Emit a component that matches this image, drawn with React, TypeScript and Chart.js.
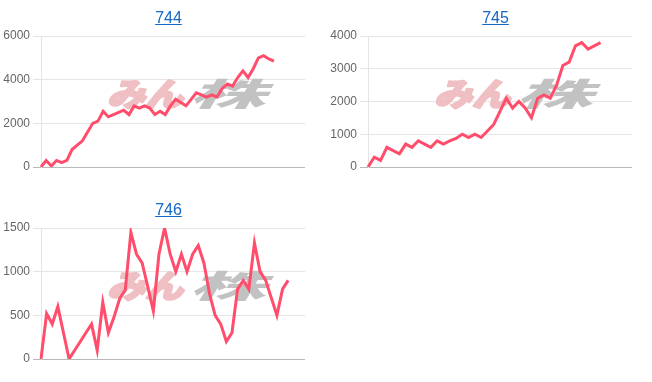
import React, { useEffect, useRef } from "react";
import { Chart, registerables } from "chart.js";

Chart.register(...registerables);

// ---------- data ----------
const TITLE_744 = "744";
const TITLE_745 = "745";
const TITLE_746 = "746";

const LABELS_744 = [
  "1", "2", "3", "4", "5", "6", "7", "8", "9", "10", "11", "12", "13",
  "14", "15", "16", "17", "18", "19", "20", "21", "22", "23", "24", "25", "26",
  "27", "28", "29", "30", "31", "32", "33", "34", "35", "36", "37", "38", "39",
  "40", "41", "42", "43", "44", "45", "46", "47", "48", "49", "50", "51", "52",
];
const VALUES_744 = [
  0, 300, 50, 300, 200, 300, 800, 1000, 1200, 1600, 2000, 2100, 2550, 2300,
  2400, 2500, 2600, 2400, 2800, 2700, 2800, 2700, 2400, 2550, 2400, 2800, 3100,
  2950, 2800, 3100, 3400, 3300, 3200, 3300, 3200, 3600, 3800, 3700, 4100, 4400,
  4100, 4500, 5000, 5100, 4950, 4850,
];
const Y_TICKS_744 = [0, 2000, 4000, 6000];

const LABELS_745 = [
  "1", "2", "3", "4", "5", "6", "7", "8", "9", "10", "11", "12", "13",
  "14", "15", "16", "17", "18", "19", "20", "21", "22", "23", "24", "25", "26",
  "27", "28", "29", "30", "31", "32", "33", "34", "35", "36", "37", "38", "39",
  "40", "41", "42", "43",
];
const VALUES_745 = [
  0, 300, 200, 600, 500, 400, 700, 600, 800, 700, 600, 800, 700, 800, 870,
  1000, 900, 1000, 900, 1100, 1300, 1700, 2100, 1800, 2000, 1800, 1500, 2100,
  2200, 2100, 2500, 3100, 3200, 3700, 3800, 3600, 3700, 3800,
];
const Y_TICKS_745 = [0, 1000, 2000, 3000, 4000];

const LABELS_746 = [
  "1", "2", "3", "4", "5", "6", "7", "8", "9", "10", "11", "12", "13",
  "14", "15", "16", "17", "18", "19", "20", "21", "22", "23", "24", "25", "26",
  "27", "28", "29", "30", "31", "32", "33", "34", "35", "36", "37", "38", "39",
  "40", "41", "42", "43", "44", "45", "46", "47", "48",
];
const VALUES_746 = [
  0, 520, 400, 600, 300, 0, 100, 200, 300, 400, 100, 650, 300, 480, 690, 790,
  1450, 1200, 1100, 830, 550, 1200, 1500, 1200, 1000, 1200, 1000, 1200, 1300,
  1100, 750, 500, 400, 200, 300, 800, 900, 800, 1330, 1000, 900, 700, 500, 800,
  900,
];
const Y_TICKS_746 = [0, 500, 1000, 1500];

const WATERMARK_KANA = "みん";
const WATERMARK_KANJI = "株";

// ---------- styles ----------
const LINE_COLOR = "rgb(255, 77, 107)";
const LINK_COLOR = "#1467c8";
const WM_PINK = "#efbfc3";
const WM_GRAY = "#c2c2c2";

const watermarkPlugin = {
  id: "watermark",
  beforeDatasetsDraw(chart: any) {
    const { ctx, chartArea: a } = chart;
    const cy = a.top + 58;
    ctx.save();
    ctx.textBaseline = "middle";
    ctx.textAlign = "left";
    ctx.lineJoin = "round";
    ctx.font = 'italic 900 32px "Noto Sans CJK JP", sans-serif';
    // pink kana
    const w1 = ctx.measureText(WATERMARK_KANA).width;
    ctx.save();
    ctx.translate(a.left + 66, cy);
    ctx.scale(76 / w1, 1);
    ctx.fillStyle = WM_PINK;
    ctx.strokeStyle = WM_PINK;
    ctx.lineWidth = 2;
    ctx.strokeText(WATERMARK_KANA, 0, 0);
    ctx.fillText(WATERMARK_KANA, 0, 0);
    ctx.restore();
    // gray kanji
    const w2 = ctx.measureText(WATERMARK_KANJI).width;
    ctx.save();
    ctx.translate(a.left + 148, cy);
    ctx.scale(76 / w2, 1);
    ctx.fillStyle = WM_GRAY;
    ctx.fillText(WATERMARK_KANJI, 0, 0);
    ctx.restore();
    ctx.restore();
  },
};

type PanelProps = {
  title: string;
  labels: string[];
  values: number[];
  yTicks: number[];
  left: number;
  top: number;
};

function Panel({ title, labels, values, yTicks, left, top }: PanelProps) {
  const ref = useRef<HTMLCanvasElement | null>(null);

  useEffect(() => {
    if (!ref.current) return;
    const chart = new Chart(ref.current, {
      type: "line",
      data: {
        labels,
        datasets: [
          {
            data: values,
            borderColor: LINE_COLOR,
            backgroundColor: LINE_COLOR,
            borderWidth: 3,
            pointRadius: 0,
            tension: 0,
            fill: false,
          },
        ],
      },
      options: {
        animation: false,
        responsive: false,
        maintainAspectRatio: false,
        layout: { padding: { top: 36, bottom: 24, left: 0, right: 0 } },
        plugins: {
          legend: { display: false },
          tooltip: { enabled: false },
          title: { display: false },
        },
        scales: {
          x: {
            grid: { display: false, drawTicks: false },
            ticks: { display: false },
            border: { display: false },
          },
          y: {
            min: yTicks[0],
            max: yTicks[yTicks.length - 1],
            ticks: {
              stepSize: yTicks[1] - yTicks[0],
              color: "#666",
              padding: 3,
              font: { size: 12, family: "Arial, 'Liberation Sans', sans-serif" },
              callback: (v: any) => String(v),
            },
            grid: {
              tickLength: 8,
              color: (c: any) =>
                c.tick && c.tick.value === 0 ? "rgba(0,0,0,0.28)" : "rgba(0,0,0,0.1)",
            },
            border: { display: true, color: "rgba(0,0,0,0.1)" },
            afterFit: (s: any) => {
              s.width = 41;
            },
          },
        },
      },
      plugins: [watermarkPlugin],
    });
    return () => chart.destroy();
  }, []);

  return (
    <div style={{ position: "absolute", left, top, width: 326, height: 191 }}>
      <canvas
        ref={ref}
        width={305}
        height={191}
        style={{ position: "absolute", left: 0, top: 0, width: 305, height: 191, display: "block" }}
      />
      <div
        style={{
          position: "absolute",
          left: 0,
          top: 9,
          width: 337,
          textAlign: "center",
          fontFamily: "Arial, 'Liberation Sans', sans-serif",
          fontSize: 16,
          lineHeight: "18px",
        }}
      >
        <a href="#" style={{ color: LINK_COLOR, textDecoration: "underline" }}>
          {title}
        </a>
      </div>
    </div>
  );
}

export default function App() {
  return (
    <div
      style={{
        position: "absolute",
        left: 0,
        top: 0,
        width: 652,
        height: 382,
        background: "#fff",
        overflow: "hidden",
      }}
    >
      <Panel title={TITLE_744} labels={LABELS_744} values={VALUES_744} yTicks={Y_TICKS_744} left={0} top={0} />
      <Panel title={TITLE_745} labels={LABELS_745} values={VALUES_745} yTicks={Y_TICKS_745} left={327} top={0} />
      <Panel title={TITLE_746} labels={LABELS_746} values={VALUES_746} yTicks={Y_TICKS_746} left={0} top={192} />
    </div>
  );
}
